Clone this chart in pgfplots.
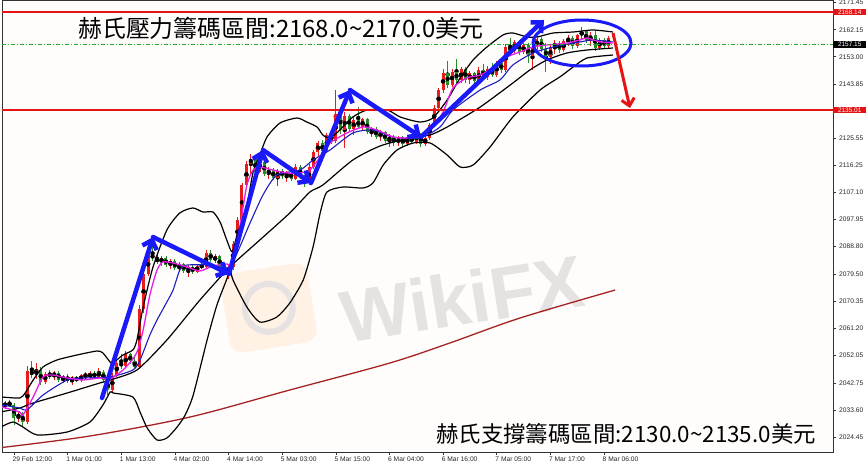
\documentclass[border=0pt]{standalone}
\usepackage{fontspec}
\setmainfont{Liberation Sans}
\newfontfamily\cjk{Noto Sans CJK TC}
\usepackage{pgfplots}
\usepackage{pgfplotstable}
\pgfplotsset{compat=1.18}
\usetikzlibrary{arrows.meta}

\definecolor{candr}{RGB}{232,28,28}
\definecolor{candg}{RGB}{40,140,40}
\definecolor{hred}{RGB}{228,20,20}
\definecolor{hgreen}{RGB}{40,170,40}
\definecolor{mamag}{RGB}{230,30,230}
\definecolor{mablue}{RGB}{30,30,190}
\definecolor{ma200}{RGB}{165,35,35}
\definecolor{annb}{RGB}{25,25,250}
\definecolor{wm}{RGB}{230,226,226}

% hourly candles: bar index, open, high, low, close
\pgfplotstableread{
k o h l c
-2 2035.0 2036.5 2034.0 2035.8
-1 2035.8 2037.0 2034.5 2035.2
0 2035.2 2035.8 2028.5 2031.0
1 2031.0 2033.0 2029.5 2032.2
2 2032.2 2032.8 2027.8 2029.5
3 2029.5 2048.5 2028.8 2046.8
4 2046.8 2050.0 2044.5 2045.5
5 2045.5 2049.5 2044.0 2047.0
6 2047.0 2048.0 2042.0 2043.0
7 2043.0 2046.5 2042.5 2045.8
8 2045.8 2047.0 2044.2 2045.0
9 2045.0 2046.8 2043.8 2046.2
10 2046.2 2046.9 2043.0 2043.8
11 2043.8 2045.5 2042.6 2044.9
12 2044.9 2045.6 2042.8 2043.5
13 2043.5 2045.0 2042.2 2044.4
14 2044.4 2045.2 2043.0 2043.6
15 2043.6 2045.8 2043.1 2045.3
16 2045.3 2046.5 2044.1 2044.6
17 2044.6 2046.7 2044.0 2046.1
18 2046.1 2046.6 2044.2 2044.8
19 2044.8 2047.9 2044.3 2046.5
20 2046.5 2047.2 2043.0 2043.8
21 2043.8 2044.4 2038.5 2040.2
22 2040.2 2046.0 2039.5 2045.2
23 2045.2 2050.5 2044.8 2049.6
24 2049.6 2052.5 2047.5 2048.4
25 2048.4 2053.6 2047.8 2052.4
26 2052.4 2053.0 2049.0 2050.0
27 2050.0 2051.6 2047.5 2048.2
28 2048.2 2069.0 2047.5 2067.8
29 2067.8 2080.5 2066.5 2079.6
30 2079.6 2087.2 2078.8 2086.0
31 2086.0 2089.3 2083.8 2085.0
32 2085.0 2086.6 2082.8 2083.6
33 2083.6 2085.8 2082.4 2084.9
34 2084.9 2085.6 2081.9 2082.6
35 2082.6 2084.6 2081.4 2083.8
36 2083.8 2084.5 2080.8 2081.5
37 2081.5 2083.5 2080.2 2082.8
38 2082.8 2083.4 2080.0 2080.7
39 2080.7 2082.6 2078.6 2081.9
40 2081.9 2082.5 2079.5 2080.3
41 2080.3 2082.9 2079.9 2082.4
42 2082.4 2083.4 2081.2 2082.0
43 2082.0 2087.6 2081.5 2086.8
44 2086.8 2087.8 2083.5 2084.2
45 2084.2 2086.4 2083.2 2085.5
46 2085.5 2086.0 2081.0 2082.0
47 2082.0 2083.4 2079.8 2080.6
48 2080.6 2082.8 2077.8 2081.9
49 2081.9 2090.6 2080.9 2089.8
50 2089.8 2098.8 2088.9 2097.9
51 2097.9 2110.4 2097.0 2109.6
52 2109.6 2117.8 2108.2 2116.9
53 2116.9 2120.0 2113.5 2118.6
54 2118.6 2119.4 2113.0 2114.2
55 2114.2 2118.8 2113.6 2117.4
56 2117.4 2118.0 2112.6 2113.4
57 2113.4 2115.6 2111.8 2114.8
58 2114.8 2115.4 2111.2 2112.0
59 2112.0 2115.1 2109.4 2114.5
60 2114.5 2115.0 2111.6 2112.6
61 2112.6 2114.4 2110.8 2113.8
62 2113.8 2114.6 2111.0 2111.8
63 2111.8 2116.6 2111.2 2115.9
64 2115.9 2116.4 2111.6 2112.4
65 2112.4 2113.0 2109.0 2110.4
66 2110.4 2116.6 2109.8 2115.8
67 2115.8 2121.6 2115.0 2120.8
68 2120.8 2124.6 2119.5 2123.8
69 2123.8 2124.8 2119.8 2121.0
70 2121.0 2127.4 2120.5 2126.6
71 2126.6 2127.8 2123.6 2124.6
72 2124.6 2141.8 2123.8 2133.6
73 2133.6 2135.8 2127.0 2128.2
74 2128.2 2134.5 2122.0 2133.0
75 2133.0 2133.8 2127.8 2128.6
76 2128.6 2132.8 2126.6 2131.6
77 2131.6 2136.0 2128.6 2129.4
78 2129.4 2132.4 2128.0 2131.8
79 2131.8 2132.4 2126.8 2127.6
80 2127.6 2129.2 2125.8 2128.6
81 2128.6 2129.2 2125.2 2126.0
82 2126.0 2128.3 2124.6 2127.5
83 2127.5 2128.0 2123.8 2124.6
84 2124.6 2126.8 2122.6 2126.0
85 2126.0 2126.6 2123.0 2123.8
86 2123.8 2126.2 2122.8 2125.6
87 2125.6 2126.2 2122.4 2123.4
88 2123.4 2126.4 2122.8 2125.8
89 2125.8 2126.6 2123.5 2124.2
90 2124.2 2127.6 2123.4 2126.9
91 2126.9 2127.3 2122.6 2123.5
92 2123.5 2126.4 2122.8 2125.6
93 2125.6 2130.6 2125.0 2129.9
94 2129.9 2136.6 2129.2 2135.8
95 2135.8 2142.6 2135.0 2141.8
96 2141.8 2148.8 2140.6 2147.5
97 2147.5 2151.5 2142.5 2143.6
98 2143.6 2149.0 2142.8 2148.0
99 2148.0 2152.2 2144.0 2145.0
100 2145.0 2149.6 2144.0 2148.8
101 2148.8 2149.6 2144.2 2145.2
102 2145.2 2148.2 2143.8 2147.4
103 2147.4 2148.0 2144.0 2144.8
104 2144.8 2149.4 2144.0 2148.6
105 2148.6 2150.4 2145.4 2146.2
106 2146.2 2149.8 2145.2 2149.0
107 2149.0 2150.8 2146.0 2146.8
108 2146.8 2151.6 2146.0 2150.8
109 2150.8 2152.0 2147.6 2148.6
110 2148.6 2157.2 2147.8 2156.4
111 2156.4 2159.2 2153.6 2155.0
112 2155.0 2158.8 2154.2 2158.0
113 2158.0 2158.8 2153.6 2154.6
114 2154.6 2157.8 2153.8 2157.0
115 2157.0 2157.8 2151.0 2153.2
116 2153.2 2157.2 2148.6 2156.4
117 2156.4 2160.0 2155.4 2159.0
118 2159.0 2159.6 2154.6 2155.8
119 2155.8 2157.6 2148.0 2152.8
120 2152.8 2157.0 2150.6 2156.2
121 2156.2 2158.6 2153.8 2157.8
122 2157.8 2158.4 2154.4 2155.2
123 2155.2 2159.0 2154.6 2158.2
124 2158.2 2160.2 2156.6 2159.4
125 2159.4 2160.0 2155.6 2156.6
126 2156.6 2160.8 2156.0 2160.2
127 2160.2 2163.0 2158.8 2161.6
128 2161.6 2162.2 2157.6 2158.4
129 2158.4 2161.4 2156.6 2160.4
130 2160.4 2161.6 2155.0 2156.0
131 2156.0 2159.2 2155.2 2158.6
132 2158.6 2159.4 2155.6 2156.6
133 2156.6 2160.0 2156.0 2159.2
}\candles

\begin{document}
\begin{tikzpicture}
\useasboundingbox (-2bp,-11bp) rectangle (864bp,452bp);
\begin{axis}[
  at={(0,0)}, anchor=south west,
  scale only axis, width=831bp, height=452bp,
  xmin=-2.68, xmax=183.22, ymin=2019.38, ymax=2172.20,
  clip mode=individual,
  axis background/.style={fill={rgb,255:red,255;green,253;blue,252}},
  axis line style={black!80, line width=0.8bp},
  tick align=outside, major tick length=3bp,
  tick style={black!80, line width=0.6bp},
  xtick pos=bottom, ytick pos=right, yticklabel pos=right,
  xtick={0,12,...,132},
  xticklabels={29 Feb 12:00,1 Mar 01:00,1 Mar 13:00,4 Mar 02:00,4 Mar 14:00,5 Mar 03:00,5 Mar 15:00,6 Mar 04:00,6 Mar 16:00,7 Mar 05:00,7 Mar 17:00,8 Mar 06:00},
  ytick={2171.45,2162.15,2153.00,2143.85,2125.55,2116.25,2107.10,2097.95,2088.80,2079.50,2070.35,2061.20,2052.05,2042.75,2033.60,2024.45},
  yticklabels={2171.45,2162.15,2153.00,2143.85,2125.55,2116.25,2107.10,2097.95,2088.80,2079.50,2070.35,2061.20,2052.05,2042.75,2033.60,2024.45},
  tick label style={font=\fontsize{6.7}{7}\selectfont, text=black!85},
  xticklabel style={anchor=north west, inner sep=0pt, xshift=-1.5bp, yshift=-1.2bp},
  yticklabel style={anchor=west, inner sep=0pt, xshift=3bp},
]

% watermark
\node[rotate=9, fill=orange!10, rounded corners=12bp, minimum width=88bp, minimum height=80bp] at (axis cs:57.0,2068.1) {};
\node[rotate=9, circle, draw=wm, line width=6bp, minimum size=48bp] at (axis cs:57.0,2068.1) {};
\node[rotate=9, text=wm, font=\bfseries\fontsize{74}{74}\selectfont] at (axis cs:100.2,2071.4) {WikiFX};

% long moving average
\addplot[ma200, line width=1.3bp, smooth] coordinates {
(-2.7,2020.9) (17.0,2024.79) (39.4,2031.21) (61.7,2040.34) (84.1,2049.47) (97.5,2056.23) (113.2,2064.68) (134.5,2074.15)};

% candles: wicks then bodies
\addplot[only marks, mark=none, error bars/.cd, y dir=both, y explicit, error mark=none,
  error bar style={draw=candr, line width=0.9bp}]
  table[x=k, y expr={\thisrow{c}>=\thisrow{o} ? 0.5*(\thisrow{h}+\thisrow{l}) : nan}, y error expr={0.5*(\thisrow{h}-\thisrow{l})}] {\candles};
\addplot[only marks, mark=none, error bars/.cd, y dir=both, y explicit, error mark=none,
  error bar style={draw=candg, line width=0.9bp}]
  table[x=k, y expr={\thisrow{c}<\thisrow{o} ? 0.5*(\thisrow{h}+\thisrow{l}) : nan}, y error expr={0.5*(\thisrow{h}-\thisrow{l})}] {\candles};
\addplot[only marks, mark=none, error bars/.cd, y dir=both, y explicit, error mark=none,
  error bar style={draw=candr, line width=3bp}]
  table[x=k, y expr={\thisrow{c}>=\thisrow{o} ? 0.5*(\thisrow{o}+\thisrow{c}) : nan}, y error expr={0.5*abs(\thisrow{c}-\thisrow{o})}] {\candles};
\addplot[only marks, mark=none, error bars/.cd, y dir=both, y explicit, error mark=none,
  error bar style={draw=candg, line width=3bp}]
  table[x=k, y expr={\thisrow{c}<\thisrow{o} ? 0.5*(\thisrow{o}+\thisrow{c}) : nan}, y error expr={0.5*abs(\thisrow{c}-\thisrow{o})}] {\candles};

% Bollinger bands
\addplot[black, line width=1.2bp, smooth, tension=0.4] coordinates {
(-2.7,2037.97) (1.3,2037.64) (2.5,2039.33) (4.3,2043.72) (6.5,2048.12) (9.6,2050.48) (14.1,2052.18) (18.6,2053.53) (19.9,2052.85) (21.5,2049.81) (22.1,2049.47) (24.4,2052.18) (26.6,2053.87) (27.5,2057.25) (28.9,2068.40) (31.1,2081.93) (34.2,2094.44) (37.1,2100.19) (40.0,2101.88) (42.3,2100.52) (44.5,2100.52) (46.1,2097.14) (47.6,2091.06) (48.8,2087.00) (49.9,2092.75) (52.1,2102.89) (53.5,2114.05) (55.0,2119.79) (56.6,2125.88) (59.5,2130.61) (63.3,2132.30) (65.5,2130.95) (67.8,2129.26) (69.1,2126.56) (70.7,2125.54) (72.9,2128.25) (75.8,2132.64) (79.0,2135.01) (83.5,2135.01) (86.4,2132.64) (90.8,2130.95) (93.7,2132.30) (96.9,2138.39) (99.8,2145.83) (102.7,2151.91) (105.8,2156.31) (109.4,2160.37) (111.6,2161.04) (114.8,2159.69) (117.0,2159.69) (120.6,2161.04) (125.1,2161.38) (129.5,2162.06) (134.0,2161.38)};
\addplot[black, line width=1.2bp, smooth, tension=0.4] coordinates {
(-2.7,2033.0) (1.3,2034.26) (4.3,2035.95) (11.9,2039.33) (19.2,2042.71) (21.5,2043.72) (27.5,2047.10) (34.2,2057.25) (41.6,2070.77) (48.3,2081.93) (55.0,2091.06) (61.7,2100.19) (66.2,2107.28) (69.1,2109.65) (75.8,2118.10) (81.9,2122.84) (89.3,2125.88) (93.1,2126.56) (96.9,2129.26) (104.3,2136.02) (111.6,2144.14) (115.4,2148.53) (119.2,2151.91) (123.7,2154.28) (128.2,2155.29) (134.0,2155.97)};
\addplot[black, line width=1.2bp, smooth, tension=0.4] coordinates {
(-2.7,2028.0) (-0.2,2029.52) (2.0,2027.83) (5.2,2025.13) (11.9,2026.14) (17.0,2029.52) (19.9,2035.27) (21.5,2039.66) (22.2,2039.33) (26.6,2037.97) (28.2,2032.90) (29.8,2027.49) (32.0,2023.44) (34.2,2024.11) (36.5,2027.83) (38.3,2031.89) (40.1,2038.65) (43.2,2057.25) (45.4,2069.08) (47.7,2078.21) (48.3,2081.59) (49.0,2077.53) (52.1,2068.40) (55.0,2063.33) (58.8,2065.02) (61.7,2069.76) (64.7,2077.53) (66.9,2088.69) (68.5,2100.19) (70.0,2107.28) (73.6,2108.97) (78.1,2108.64) (80.3,2110.33) (82.6,2116.41) (85.7,2121.49) (89.3,2123.85) (93.1,2123.85) (96.9,2119.79) (99.8,2115.74) (102.7,2116.41) (106.5,2122.50) (111.6,2132.64) (117.7,2141.77) (122.1,2146.17) (125.1,2149.55) (128.2,2152.59) (134.0,2153.60)};

% short moving averages
\addplot[mablue, line width=1.1bp, smooth, tension=0.4] coordinates {
(-2.7,2035.27) (1.3,2034.26) (2.9,2033.58) (6.5,2038.65) (11.9,2043.72) (15.4,2044.40) (21.5,2044.74) (26.6,2047.10) (28.2,2050.48) (30.4,2058.94) (32.0,2064.01) (34.2,2070.09) (35.6,2074.15) (37.1,2080.91) (38.7,2082.60) (44.5,2082.60) (48.3,2081.93) (52.8,2096.80) (55.7,2106.27) (58.8,2113.03) (64.0,2114.72) (66.9,2118.10) (70.7,2121.49) (75.8,2127.23) (80.3,2128.25) (84.8,2125.88) (90.8,2125.54) (95.3,2129.26) (98.2,2135.01) (104.3,2141.77) (108.7,2145.15) (111.6,2150.22) (116.1,2154.28) (120.6,2156.31) (126.6,2158.00) (129.5,2158.68) (134.0,2158.00)};
\addplot[mamag, line width=1.3bp, smooth, tension=0.4] coordinates {
(-2.7,2034.59) (1.3,2032.90) (2.0,2031.89) (4.3,2037.97) (6.5,2044.74) (8.7,2045.41) (11.9,2044.40) (15.4,2043.72) (19.2,2044.40) (21.5,2044.06) (24.4,2047.10) (26.6,2050.82) (27.7,2053.87) (28.9,2060.63) (30.4,2072.46) (32.0,2080.91) (33.3,2083.62) (35.6,2083.28) (38.7,2081.93) (41.6,2080.58) (44.5,2082.27) (47.7,2082.94) (48.8,2082.27) (50.6,2096.13) (52.1,2109.65) (53.5,2114.72) (55.0,2115.74) (57.9,2114.72) (61.1,2113.71) (64.0,2113.71) (66.2,2114.72) (68.5,2119.12) (70.7,2123.85) (74.5,2127.23) (78.1,2129.26) (81.2,2128.25) (84.8,2125.88) (87.9,2125.54) (90.8,2126.22) (93.7,2129.26) (96.0,2134.33) (98.2,2142.45) (101.3,2145.83) (104.3,2146.84) (107.2,2149.21) (110.3,2152.93) (113.2,2154.62) (116.1,2156.31) (119.2,2156.99) (123.7,2157.66) (126.6,2158.68) (128.2,2159.35) (131.1,2158.00) (134.0,2157.66)};

% levels
\draw[hred, line width=1.5bp] (axis cs:-2.68,2168.14) -- (axis cs:183.22,2168.14);
\draw[hred, line width=1.5bp] (axis cs:-2.68,2135.01) -- (axis cs:183.22,2135.01);
\draw[hgreen, line width=0.8bp, dash pattern=on 4bp off 2bp on 1bp off 2bp] (axis cs:-2.68,2157.15) -- (axis cs:183.22,2157.15);
\node[fill=hred, text=white, font=\fontsize{6.5}{7}\selectfont, inner ysep=1.2bp, inner xsep=3bp, anchor=west, minimum width=33bp, align=left] at (axis cs:183.22,2168.14) {2168.14};
\node[fill=hred, text=white, font=\fontsize{6.5}{7}\selectfont, inner ysep=1.2bp, inner xsep=3bp, anchor=west, minimum width=33bp, align=left] at (axis cs:183.22,2135.01) {2135.01};
\node[fill=black, text=white, font=\fontsize{6.5}{7}\selectfont, inner ysep=1.2bp, inner xsep=3bp, anchor=west, minimum width=33bp, align=left] at (axis cs:183.22,2157.15) {2157.15};

% annotations
\tikzset{barb/.style={annb, line width=4.5bp, line cap=round, -{Straight Barb[length=8bp,width=15bp]}}}
\draw[barb] (axis cs:19.69,2037.64) -- (axis cs:31.10,2092.07);
\draw[barb] (axis cs:31.10,2092.07) -- (axis cs:48.10,2079.56);
\draw[barb] (axis cs:48.10,2079.56) -- (axis cs:55.70,2121.49);
\draw[barb] (axis cs:55.70,2121.49) -- (axis cs:66.44,2110.33);
\draw[barb] (axis cs:66.44,2110.33) -- (axis cs:75.17,2141.77);
\draw[barb] (axis cs:75.17,2141.77) -- (axis cs:91.05,2125.88);
\draw[barb] (axis cs:91.05,2125.88) -- (axis cs:118.57,2165.44);
\draw[annb, line width=3bp] (axis cs:127.07,2157.66) ellipse [x radius=49bp, y radius=23bp];
\draw[hred, line width=3bp, -{Straight Barb[length=7bp,width=13bp]}] (axis cs:134.0,2161.04) -- (axis cs:137.8,2135.69);

\node[anchor=west, inner sep=0pt, font=\cjk\fontsize{24}{24}\selectfont] at (axis cs:14.32,2162.73) {赫氏壓力籌碼區間:2168.0\textasciitilde 2170.0美元};
\node[anchor=west, inner sep=0pt, font=\cjk\fontsize{22.5}{22.5}\selectfont] at (axis cs:94.41,2025.63) {赫氏支撐籌碼區間:2130.0\textasciitilde 2135.0美元};
\end{axis}
\end{tikzpicture}
\end{document}
